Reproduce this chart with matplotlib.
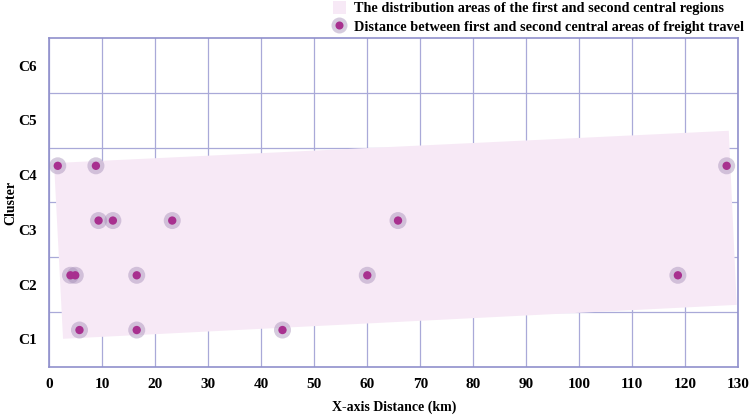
import matplotlib
matplotlib.use("Agg")
import matplotlib.pyplot as plt
from matplotlib.patches import Polygon, Patch
from matplotlib.lines import Line2D
from matplotlib.legend_handler import HandlerTuple

plt.rcParams['font.family'] = ['Liberation Serif', 'DejaVu Serif']
plt.rcParams['font.weight'] = 'bold'

# Data
cluster_labels = ["C1", "C2", "C3", "C4", "C5", "C6"]
c1_x = [5.7, 16.5, 44.0]
c2_x = [4.0, 4.9, 16.5, 60.0, 118.6]
c3_x = [9.3, 12.0, 23.2, 65.8]
c4_x = [1.6, 8.8, 127.8]
cluster_points = {1: c1_x, 2: c2_x, 3: c3_x, 4: c4_x}
region_x = [0.9, 128.2, 129.7, 2.6]
region_y = [4.22, 4.81, 1.63, 1.01]
x_ticks = list(range(0, 131, 10))

point_offset = 0.17

fig = plt.figure(figsize=(7.5, 4.16), dpi=100)
ax = fig.add_axes([0.0657, 0.1185, 0.9187, 0.7895])

grid_c = '#a9a9d8'
spine_c = '#9090cc'
fill_c = '#f7e9f6'

ax.set_xlim(0, 130)
ax.set_ylim(0.5, 6.5)
ax.set_xticks(x_ticks)
ax.set_yticks(range(1, 7))
ax.set_yticklabels(cluster_labels)
ax.set_yticks([1.5, 2.5, 3.5, 4.5, 5.5], minor=True)
ax.tick_params(axis='both', which='both', length=0, labelsize=11, pad=8)
ax.tick_params(axis='y', pad=9)
ax.grid(True, axis='x', which='major', color=grid_c, lw=0.9)
ax.grid(True, axis='y', which='minor', color=grid_c, lw=0.9)
ax.set_axisbelow(True)
for s in ax.spines.values():
    s.set_color(spine_c)
    s.set_linewidth(1.2)

poly = Polygon(list(zip(region_x, region_y)), closed=True,
               facecolor=fill_c, edgecolor='none', zorder=1)
ax.add_patch(poly)

for k, xs in cluster_points.items():
    ys = [k + point_offset] * len(xs)
    ax.scatter(xs, ys, s=150, color='#a38cb6', alpha=0.45, edgecolors='none', zorder=3)
    ax.scatter(xs, ys, s=36, color='#a8308f', edgecolors='none', zorder=4)

ax.set_xlabel('X-axis Distance (km)', fontsize=10, fontweight='bold', labelpad=7)
ax.set_ylabel('Cluster', fontsize=10, fontweight='bold')
ax.yaxis.set_label_coords(-0.046, 0.5)

patch_h = Patch(facecolor=fill_c, edgecolor='none')
halo_h = Line2D([], [], marker='o', ls='none', markersize=11.5,
                markerfacecolor='#a38cb6', markeredgecolor='none', alpha=0.45)
dot_h = Line2D([], [], marker='o', ls='none', markersize=5.8,
               markerfacecolor='#a8308f', markeredgecolor='none')
fig.legend([patch_h, (halo_h, dot_h)],
           ['The distribution areas of the first and second central regions',
            'Distance between first and second central areas of freight travel'],
           handler_map={tuple: HandlerTuple(ndivide=1, pad=0)},
           loc='upper right', bbox_to_anchor=(1.003, 1.018), frameon=False,
           prop={'family': 'Liberation Serif', 'weight': 'bold', 'size': 10.3},
           handlelength=0.9, handleheight=1.0, handletextpad=0.55, labelspacing=0.3,
           borderaxespad=0.2)

fig.savefig('out.png', dpi=100)
